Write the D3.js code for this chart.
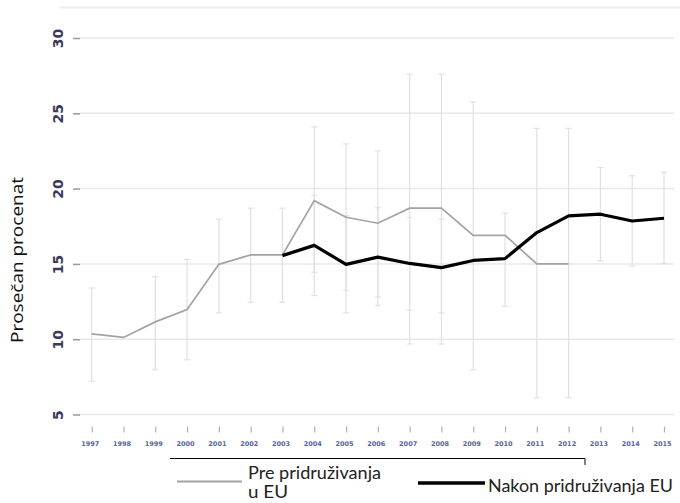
<!DOCTYPE html>
<html>
<head>
<meta charset="utf-8">
<script src="https://cdn.jsdelivr.net/npm/d3@7"></script>
<style>
  body { margin: 0; background: #fff; }
  svg { display: block; }
</style>
</head>
<body>
<svg id="chart" width="680" height="503"></svg>
<script>
var years = [1997, 1998, 1999, 2000, 2001, 2002, 2003, 2004, 2005, 2006, 2007, 2008, 2009, 2010, 2011, 2012, 2013, 2014, 2015];

// Pre pridruzivanja u EU
var pre_mean  = [10.35, 10.12, 11.15, 11.97, 14.97, 15.6, 15.6, 19.2, 18.1, 17.7, 18.7, 18.7, 16.9, 16.9, 15.0, 15.0, null, null, null];
var pre_lower = [7.2, null, 7.97, 8.63, 11.75, 12.45, 12.45, 14.45, 13.25, 12.8, 9.68, 9.68, 7.97, null, 6.12, 6.12, null, null, null];
var pre_upper = [13.4, null, 14.15, 15.3, 17.97, 18.7, 18.7, 24.1, 22.97, 22.5, 27.6, 27.6, 25.74, null, 24.0, 24.0, null, null, null];

// Nakon pridruzivanja EU
var post_mean  = [null, null, null, null, null, null, 15.55, 16.23, 14.97, 15.45, 15.03, 14.75, 15.23, 15.35, 17.08, 18.19, 18.3, 17.85, 18.03];
var post_lower = [null, null, null, null, null, null, null, 12.9, 11.75, 12.23, 11.92, 11.75, null, 12.18, null, null, 15.2, 14.85, 15.03];
var post_upper = [null, null, null, null, null, null, null, 19.57, 18.2, 18.73, 18.08, 17.97, null, 18.37, null, null, 21.4, 20.85, 21.07];

var y_ticks = [5, 10, 15, 20, 25, 30];

var svg = d3.select("#chart");

var x = d3.scaleLinear().domain([1997, 2015]).range([91.7, 664]);
var y = d3.scaleLinear().domain([5, 30]).range([414.5, 38]);

// faint top border
svg.append("line")
    .attr("x1", 60).attr("x2", 680).attr("y1", 7.5).attr("y2", 7.5)
    .style("stroke", "#eeeeee").style("stroke-width", 2);

// grid
svg.selectAll(".grid").data(y_ticks).enter().append("line")
    .attr("class", "grid")
    .attr("x1", 80).attr("x2", 674)
    .attr("y1", d => y(d)).attr("y2", d => y(d))
    .style("stroke", "#e8e8e8").style("stroke-width", 1.5);

// y axis
var yAxis = d3.axisLeft(y).tickValues(y_ticks).tickSize(7).tickPadding(0).tickFormat(d3.format("d"));
var gy = svg.append("g").attr("transform", "translate(80,0)").call(yAxis);
gy.select(".domain").remove();
gy.selectAll(".tick line").style("stroke", "#999").style("stroke-width", 1.5);
gy.selectAll(".tick text")
    .attr("x", 0).attr("dy", 0)
    .attr("transform", "translate(-22,0) rotate(-90)")
    .attr("text-anchor", "middle")
    .attr("dominant-baseline", "central")
    .style("font-family", "'DejaVu Sans', sans-serif")
    .style("font-size", "14px")
    .style("font-weight", "600")
    .style("fill", "#3a3a58");

// x axis
var xAxis = d3.axisBottom(x).tickValues(years).tickSize(6).tickPadding(0).tickFormat(d3.format("d"));
var gx = svg.append("g").attr("transform", "translate(0,426.5)").call(xAxis);
gx.select(".domain").remove();
gx.selectAll(".tick line").style("stroke", "#b0b0b0").style("stroke-width", 1.2);
gx.selectAll(".tick text")
    .attr("x", -2).attr("y", 19).attr("dy", 0)
    .style("font-family", "'DejaVu Sans', sans-serif")
    .style("font-size", "6.5px")
    .style("font-weight", "bold")
    .style("fill", "#5566a0");

// error bars
function errorBars(lower, upper, cls) {
  var data = years.map((yr, i) => ({year: yr, lo: lower[i], hi: upper[i]})).filter(d => d.lo != null);
  var g = svg.append("g").attr("class", cls);
  g.selectAll(".v").data(data).enter().append("line")
      .attr("x1", d => x(d.year)).attr("x2", d => x(d.year))
      .attr("y1", d => y(d.lo)).attr("y2", d => y(d.hi));
  g.selectAll(".cl").data(data).enter().append("line")
      .attr("x1", d => x(d.year) - 3).attr("x2", d => x(d.year) + 3)
      .attr("y1", d => y(d.lo)).attr("y2", d => y(d.lo));
  g.selectAll(".ch").data(data).enter().append("line")
      .attr("x1", d => x(d.year) - 3).attr("x2", d => x(d.year) + 3)
      .attr("y1", d => y(d.hi)).attr("y2", d => y(d.hi));
  g.selectAll("line").style("stroke", "#e0e0e0").style("stroke-width", 1.2);
}
errorBars(pre_lower, pre_upper, "err-pre");
errorBars(post_lower, post_upper, "err-post");

var line = d3.line()
    .defined(d => d.v != null)
    .x(d => x(d.year))
    .y(d => y(d.v));

svg.append("path")
    .datum(years.map((yr, i) => ({year: yr, v: pre_mean[i]})))
    .attr("d", line)
    .style("fill", "none").style("stroke", "#a3a3a3").style("stroke-width", 1.7);

svg.append("path")
    .datum(years.map((yr, i) => ({year: yr, v: post_mean[i]})))
    .attr("d", line)
    .style("fill", "none").style("stroke", "#000").style("stroke-width", 3.2)
    .style("stroke-linejoin", "round");

// y title
svg.append("text")
    .attr("transform", "translate(23,260) rotate(-90)")
    .attr("text-anchor", "middle")
    .attr("textLength", 166)
    .attr("lengthAdjust", "spacingAndGlyphs")
    .style("font-family", "'Open Sans', sans-serif")
    .style("font-size", "17px")
    .style("fill", "#111")
    .text("Prosečan procenat");

// legend
var lg = svg.append("g").style("font-family", "Lato, sans-serif").style("font-size", "17px").style("fill", "#222");
lg.append("path")
    .attr("d", "M170,458.5H585V465")
    .style("fill", "none").style("stroke", "#000").style("stroke-width", 1);
lg.append("line").attr("x1", 177).attr("x2", 242).attr("y1", 481.5).attr("y2", 481.5)
    .style("stroke", "#a3a3a3").style("stroke-width", 2);
lg.append("text").attr("x", 248).attr("y", 479)
    .attr("textLength", 133).attr("lengthAdjust", "spacingAndGlyphs").text("Pre pridruživanja");
lg.append("text").attr("x", 248).attr("y", 498)
    .attr("textLength", 40).attr("lengthAdjust", "spacingAndGlyphs").text("u EU");
lg.append("line").attr("x1", 418).attr("x2", 485).attr("y1", 483).attr("y2", 483)
    .style("stroke", "#000").style("stroke-width", 3.5);
lg.append("text").attr("x", 488).attr("y", 492)
    .attr("textLength", 185).attr("lengthAdjust", "spacingAndGlyphs").text("Nakon pridruživanja EU");
</script>
</body>
</html>
